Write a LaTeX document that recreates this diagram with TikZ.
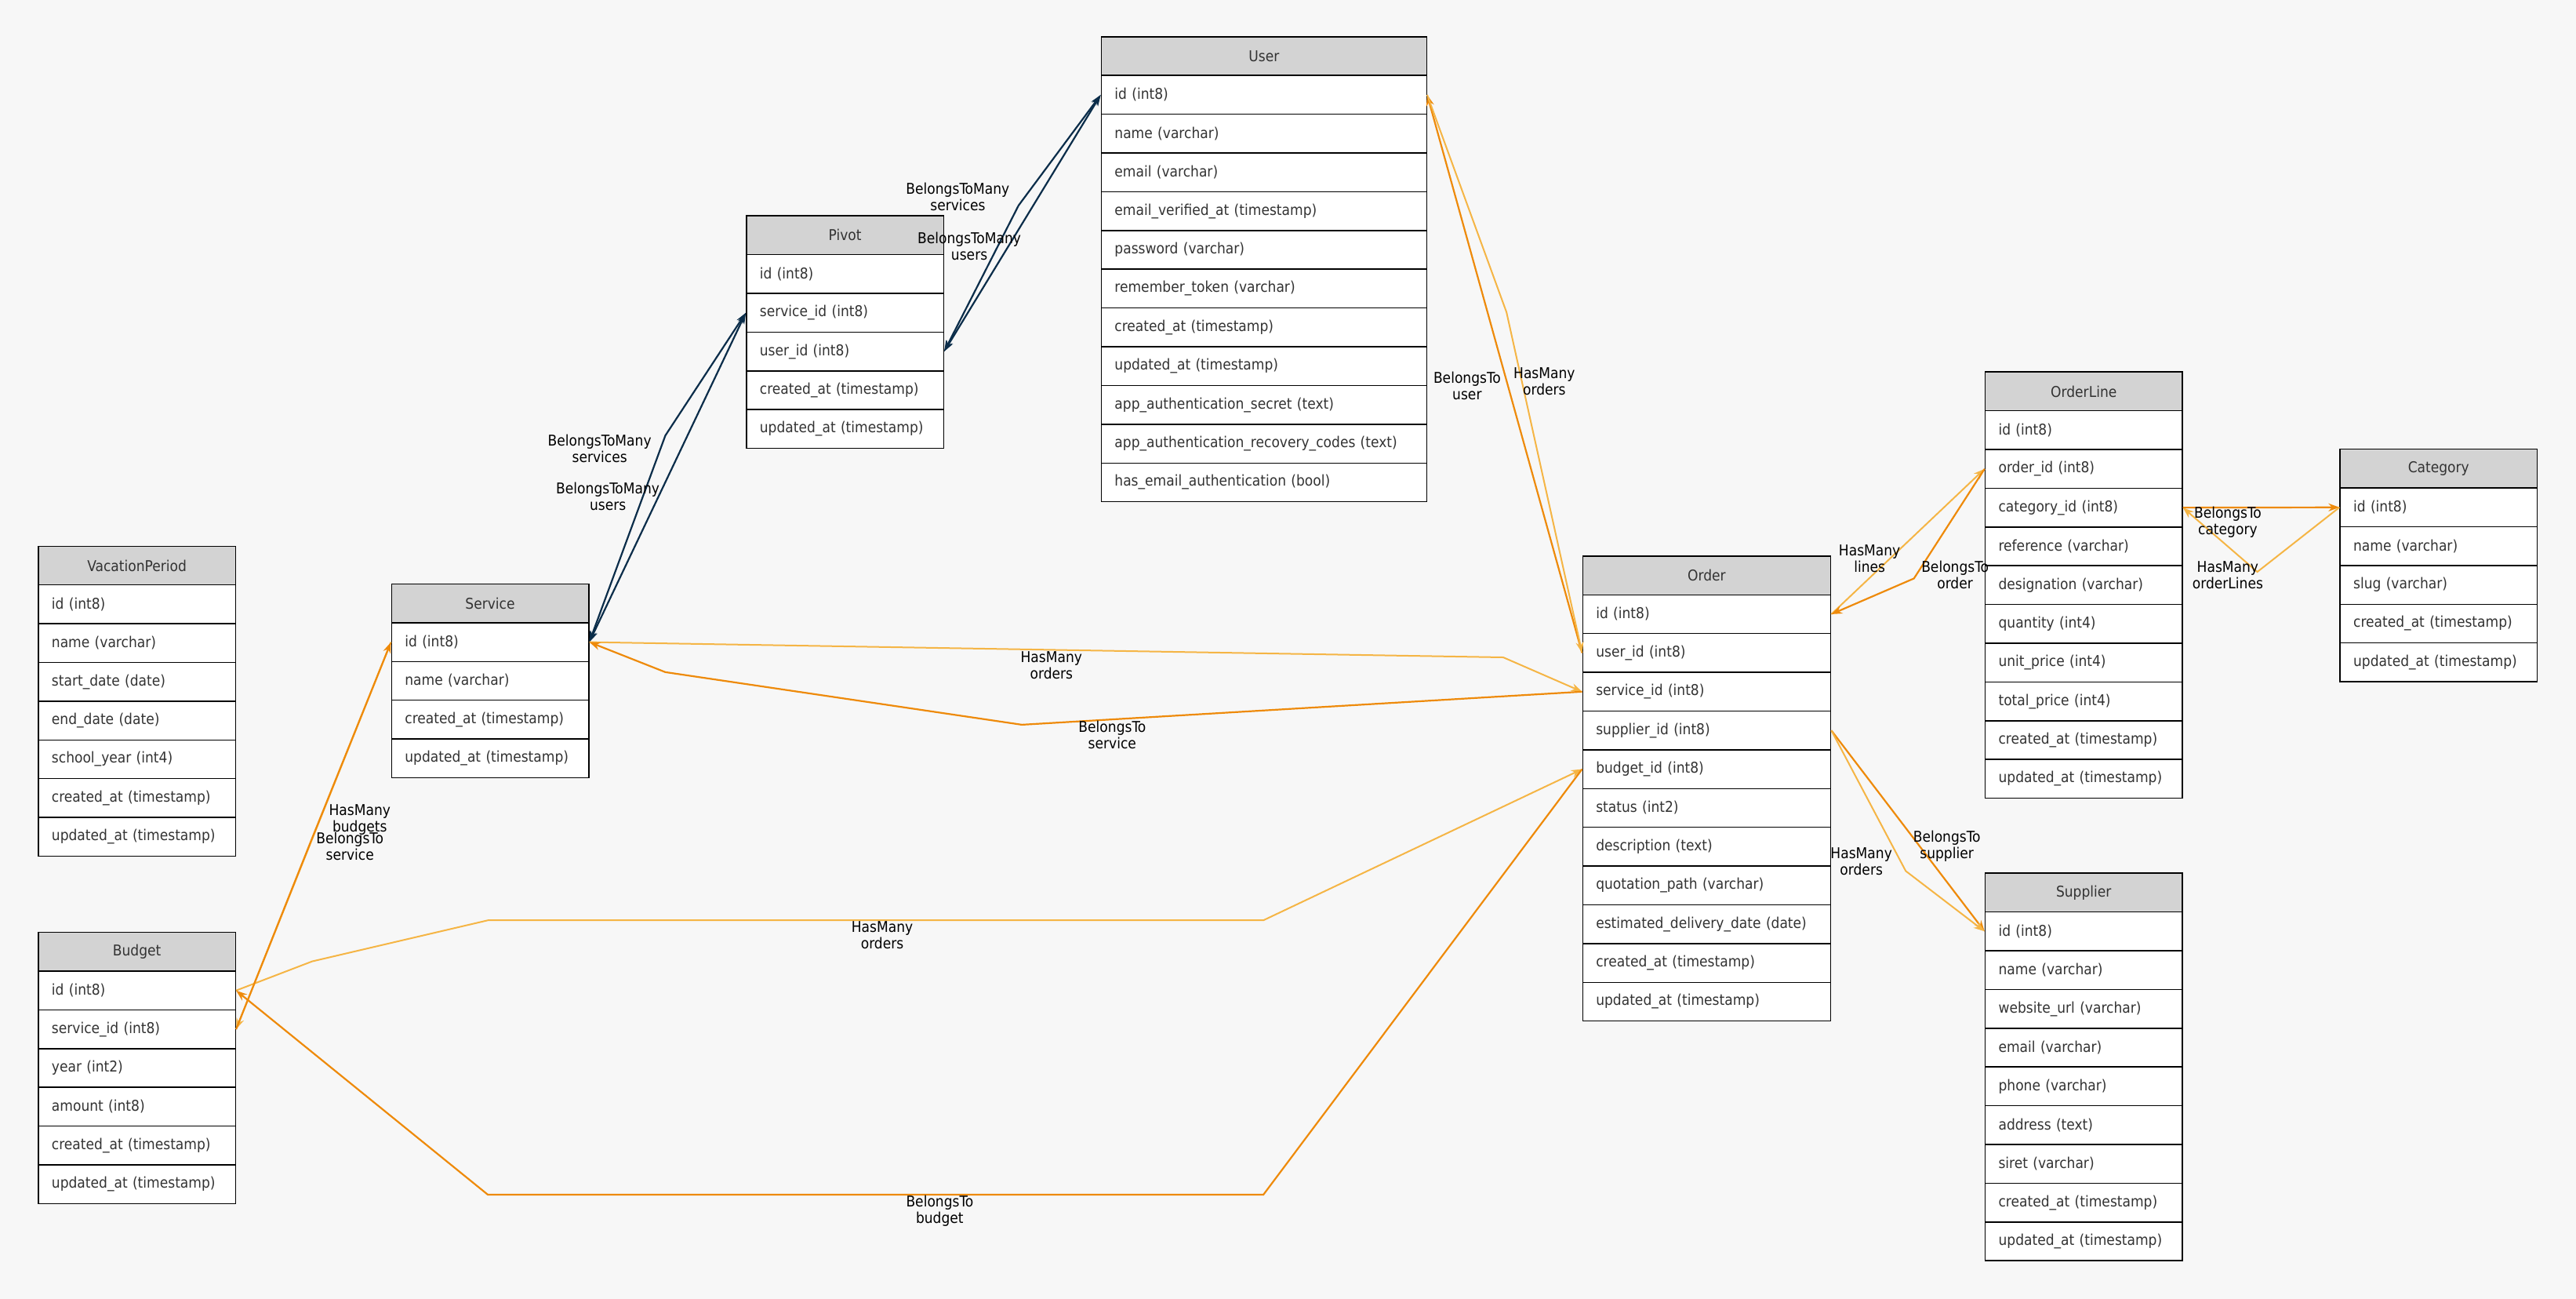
\documentclass[tikz,border=0pt]{standalone}
\usepackage{fontspec}
\setmainfont{DejaVu Sans Condensed}
\usetikzlibrary{arrows.meta}
\definecolor{bg}{HTML}{F7F7F7}
\definecolor{hd}{HTML}{D3D3D3}
\definecolor{navy}{HTML}{0B2D4A}
\definecolor{dor}{HTML}{EE8A0A}
\definecolor{lor}{HTML}{F5B545}
\definecolor{tx}{HTML}{333333}
\newcommand\erTable[6]{%
  \pgfmathsetmacro\tw{#4*2.095-34}
  \node[hdr, text width=\tw pt, anchor=north west] (#1) at (#2,#3) {#5};
  \foreach \t [count=\i] in {#6}
    \node[row, text width=\tw pt, anchor=north west] (#1-\i) at (#2,#3+\i*23.58) {\t};
}
\begin{document}
\begin{tikzpicture}[x=2.095pt,y=-2.095pt,
  font=\fontsize{19}{22}\selectfont,
  hdr/.style={draw=black, line width=1.5pt, fill=hd, align=center, minimum height=49.4pt, inner xsep=17pt, inner ysep=0pt, text=tx},
  row/.style={draw=black, line width=1.5pt, fill=white, align=left, minimum height=49.4pt, inner xsep=17pt, inner ysep=0pt, text=tx},
  btm/.style={draw=navy, line width=2.2pt, {Stealth[length=14pt,width=9pt]}-{Stealth[length=14pt,width=9pt]}},
  bt/.style={draw=dor, line width=2.2pt, -{Stealth[length=14pt,width=10pt]}},
  hm/.style={draw=lor, line width=2pt, -{Stealth[length=14pt,width=10pt]}},
  lbl/.style={align=center, inner sep=1pt, text=black, font=\fontsize{19}{21}\selectfont}]
\fill[bg] (0,0) rectangle (1568,790.4);
\useasboundingbox (0,0) rectangle (1568,790.4);

\erTable{VacationPeriod}{23}{332}{120}{VacationPeriod}{id (int8),name (varchar),start\_date (date),end\_date (date),school\_year (int4),created\_at (timestamp),updated\_at (timestamp)}
\erTable{Budget}{23}{567}{120}{Budget}{id (int8),service\_id (int8),year (int2),amount (int8),created\_at (timestamp),updated\_at (timestamp)}
\erTable{Service}{238}{355}{120}{Service}{id (int8),name (varchar),created\_at (timestamp),updated\_at (timestamp)}
\erTable{Pivot}{454}{131}{120}{Pivot}{id (int8),service\_id (int8),user\_id (int8),created\_at (timestamp),updated\_at (timestamp)}
\erTable{User}{670}{22}{198}{User}{id (int8),name (varchar),email (varchar),email\_verified\_at (timestamp),password (varchar),remember\_token (varchar),created\_at (timestamp),updated\_at (timestamp),app\_authentication\_secret (text),app\_authentication\_recovery\_codes (text),has\_email\_authentication (bool)}
\erTable{Order}{963}{338}{151}{Order}{id (int8),user\_id (int8),service\_id (int8),supplier\_id (int8),budget\_id (int8),status (int2),description (text),quotation\_path (varchar),estimated\_delivery\_date (date),created\_at (timestamp),updated\_at (timestamp)}
\erTable{OrderLine}{1208}{226}{120}{OrderLine}{id (int8),order\_id (int8),category\_id (int8),reference (varchar),designation (varchar),quantity (int4),unit\_price (int4),total\_price (int4),created\_at (timestamp),updated\_at (timestamp)}
\erTable{Category}{1424}{273}{120}{Category}{id (int8),name (varchar),slug (varchar),created\_at (timestamp),updated\_at (timestamp)}
\erTable{Supplier}{1208}{531}{120}{Supplier}{id (int8),name (varchar),website\_url (varchar),email (varchar),phone (varchar),address (text),siret (varchar),created\_at (timestamp),updated\_at (timestamp)}

% Service <-> Pivot
\draw[btm] (Service-1.east) -- (Pivot-2.west);
\draw[btm] (Service-1.east) -- (405,265) -- (Pivot-2.west);
\node[lbl] (l1) at (365,273) {BelongsToMany\\services};
\node[lbl] (l2) at (370,302) {BelongsToMany\\users};
% Pivot <-> User
\draw[btm] (Pivot-3.east) -- (User-1.west);
\draw[btm] (Pivot-3.east) -- (620,125) -- (User-1.west);
\node[lbl] (l3) at (583,120) {BelongsToMany\\services};
\node[lbl] (l4) at (590,150) {BelongsToMany\\users};
% User <-> Order
\draw[bt] (Order-2.west) -- (User-1.east);
\draw[hm] (User-1.east) -- (917,190) -- (Order-2.west);
\node[lbl] (l5) at (893,235) {BelongsTo\\user};
\node[lbl] (l6) at (940,232) {HasMany\\orders};
% Service <-> Order
\draw[hm] (Service-1.east) -- (915,400) -- (Order-3.west);
\draw[bt] (Order-3.west) -- (622,441) -- (405,409) -- (Service-1.east);
\node[lbl] (l7) at (640,405) {HasMany\\orders};
\node[lbl] (l8) at (677,447) {BelongsTo\\service};
% Budget <-> Order
\draw[hm] (Budget-1.east) -- (190,585) -- (297,560) -- (769,560) -- (Order-5.west);
\draw[bt] (Order-5.west) -- (769,727) -- (297,727) -- (Budget-1.east);
\node[lbl] (l9) at (537,569) {HasMany\\orders};
\node[lbl] (l10) at (572,737) {BelongsTo\\budget};
% Service <-> Budget
\draw[hm] (Service-1.west) -- (Budget-2.east);
\draw[bt] (Budget-2.east) -- (190,510) -- (Service-1.west);
\node[lbl] (l11) at (219,499) {HasMany\\budgets};
\node[lbl] (l12) at (213,515) {BelongsTo\\service};
% Order <-> OrderLine
\draw[hm] (Order-1.east) -- (OrderLine-2.west);
\draw[bt] (OrderLine-2.west) -- (1165,352) -- (Order-1.east);
\node[lbl] (l13) at (1138,340) {HasMany\\lines};
\node[lbl] (l14) at (1190,350) {BelongsTo\\order};
% OrderLine <-> Category
\draw[bt] (OrderLine-3.east) -- (Category-1.west);
\draw[hm] (Category-1.west) -- (1374,348) -- (OrderLine-3.east);
\node[lbl] (l15) at (1356,318) {BelongsTo\\category};
\node[lbl] (l16) at (1356,350) {HasMany\\orderLines};
% Order <-> Supplier
\draw[bt] (Order-4.east) -- (Supplier-1.west);
\draw[hm] (Order-4.east) -- (1160,530) -- (Supplier-1.west);
\node[lbl] (l17) at (1185,515) {BelongsTo\\supplier};
\node[lbl] (l18) at (1133,524) {HasMany\\orders};
\end{tikzpicture}
\end{document}
